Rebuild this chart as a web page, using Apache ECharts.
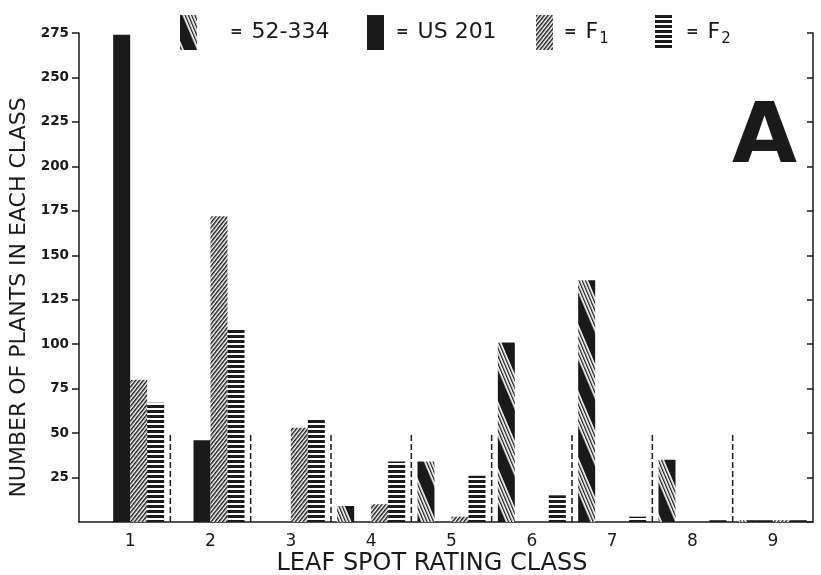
<!DOCTYPE html>
<html>
<head>
<meta charset="utf-8">
<title>Leaf spot rating class</title>
<script src="https://cdn.jsdelivr.net/npm/echarts@6/dist/echarts.min.js"></script>
<style>
    html, body { margin: 0; padding: 0; background: #fff; }
    #chart { width: 821px; height: 575px; }
</style>
</head>
<body>
<div id="chart"></div>
<script>
// 数据
const classes = ['1', '2', '3', '4', '5', '6', '7', '8', '9'];
const seriesNames = ['52-334', 'US 201', 'F1', 'F2'];
const line52334 = [0, 0, 0, 9, 34, 101, 136, 35, 1];
const us201 = [274, 46, 0, 0, 0, 0, 0, 0, 1];
const f1 = [80, 172, 53, 10, 3, 0, 0, 0, 1];
const f2 = [67, 109, 58, 34, 26, 15, 3, 1, 1];
const yMin = 0;
const yMax = 275;
const yStep = 25;
const dividerHeight = 50;

const ink = '#1a1a1a';
const font = 'DejaVu Sans';

// 条纹图案
function stripeCanvas(h, bg, fg, rows) {
    const c = document.createElement('canvas');
    c.width = 8;
    c.height = h;
    const ctx = c.getContext('2d');
    ctx.fillStyle = bg;
    ctx.fillRect(0, 0, 8, h);
    ctx.fillStyle = fg;
    rows.forEach(r => ctx.fillRect(0, r[0], 8, r[1]));
    return c;
}

const pat52334 = {
    image: stripeCanvas(26, ink, '#fff', [[10, 1.7], [13, 1.7], [16, 1.7], [19, 1.7], [22, 1.7]]),
    repeat: 'repeat',
    rotation: 1.17
};
const patF1 = {
    image: stripeCanvas(3, '#fff', ink, [[0, 1.5]]),
    repeat: 'repeat',
    rotation: -0.9
};
const patF2 = {
    image: stripeCanvas(5, '#fff', ink, [[0, 3]]),
    repeat: 'repeat'
};
const fills = [pat52334, ink, patF1, patF2];
const values = [line52334, us201, f1, f2];

function legendText(name) {
    if (name === 'F1') return '{eq|=}{t|F}{sub|1}';
    if (name === 'F2') return '{eq|=}{t|F}{sub|2}';
    return '{eq|=}{t|' + name + '}';
}

const legendLeft = [175, 362, 531, 650];
const legendPad = [28, 7, 6, 9];

const chart = echarts.init(document.getElementById('chart'));

const option = {
    animation: false,
    backgroundColor: '#fff',
    title: {
        text: 'A',
        right: 19,
        top: 93,
        textStyle: { fontFamily: font, fontWeight: 'bold', fontSize: 84, color: ink }
    },
    legend: seriesNames.map((n, i) => ({
        data: [n],
        left: legendLeft[i],
        top: 10,
        icon: 'rect',
        itemWidth: 17,
        itemHeight: 35,
        selectedMode: false,
        formatter: legendText,
        textStyle: {
            color: ink,
            fontFamily: font,
            rich: {
                eq: { fontSize: 15, fontWeight: 'bold', color: ink, padding: [0, 9, 0, legendPad[i]] },
                t: { fontSize: 22, color: ink, fontFamily: font },
                sub: { fontSize: 15, color: ink, fontFamily: font, padding: [14, 0, 0, 1] }
            }
        }
    })),
    grid: [
        { left: 90, right: 8, top: 33, bottom: 53, outerBoundsMode: 'none' },
        { left: 79, right: 8, top: 33, bottom: 53, outerBoundsMode: 'none' }
    ],
    xAxis: [
        {
            type: 'category',
            gridIndex: 0,
            data: classes,
            axisLine: { show: false },
            axisTick: { show: false },
            axisLabel: { color: ink, fontFamily: font, fontSize: 17, margin: 11 }
        },
        {
            type: 'value',
            gridIndex: 1,
            min: 0,
            max: 1,
            axisLine: { lineStyle: { color: ink, width: 1.5 } },
            axisTick: { show: false },
            axisLabel: { show: false },
            splitLine: { show: false },
            name: 'LEAF SPOT RATING CLASS',
            nameLocation: 'middle',
            nameGap: 30,
            nameTextStyle: { color: ink, fontFamily: font, fontSize: 24, padding: [0, 28, 0, 0] }
        }
    ],
    yAxis: [
        {
            type: 'value',
            gridIndex: 0,
            min: yMin,
            max: yMax,
            interval: yStep,
            show: false
        },
        {
            type: 'value',
            gridIndex: 1,
            position: 'left',
            min: yMin,
            max: yMax,
            interval: yStep,
            axisLine: { show: true, lineStyle: { color: ink, width: 1.5 } },
            axisTick: { show: true, length: 7, lineStyle: { color: ink, width: 1.5 } },
            axisLabel: { color: ink, fontFamily: font, fontWeight: 'bold', fontSize: 13.5, margin: 10, showMinLabel: false },
            splitLine: { show: false },
            name: 'NUMBER OF PLANTS IN EACH CLASS',
            nameLocation: 'middle',
            nameGap: 45,
            nameTextStyle: { color: ink, fontFamily: font, fontSize: 22, padding: [0, 40, 0, 0] }
        },
        {
            type: 'value',
            gridIndex: 1,
            position: 'right',
            min: yMin,
            max: yMax,
            interval: yStep,
            axisLine: { show: true, lineStyle: { color: ink, width: 1.5 } },
            axisTick: { show: true, inside: true, length: 6, lineStyle: { color: ink, width: 1.5 } },
            axisLabel: { show: false },
            splitLine: { show: false }
        }
    ],
    series: seriesNames.map((n, i) => ({
        name: n,
        type: 'bar',
        xAxisIndex: 0,
        yAxisIndex: 0,
        barWidth: 17,
        barGap: '0%',
        itemStyle: { color: fills[i] },
        emphasis: { disabled: true },
        data: values[i]
    })).concat([{
        // 分隔虚线
        type: 'custom',
        xAxisIndex: 0,
        yAxisIndex: 0,
        silent: true,
        data: classes.slice(0, classes.length - 1).map((c, i) => [i, dividerHeight]),
        renderItem: function (params, api) {
            const base = api.coord([api.value(0), 0]);
            const top = api.coord([api.value(0), api.value(1)]);
            const half = api.size([1, 0])[0] / 2;
            return {
                type: 'line',
                shape: { x1: base[0] + half, y1: base[1], x2: base[0] + half, y2: top[1] },
                style: { stroke: ink, lineWidth: 1.5, lineDash: [6, 3] }
            };
        }
    }])
};

chart.setOption(option);
window.addEventListener('resize', () => chart.resize());
</script>
</body>
</html>
